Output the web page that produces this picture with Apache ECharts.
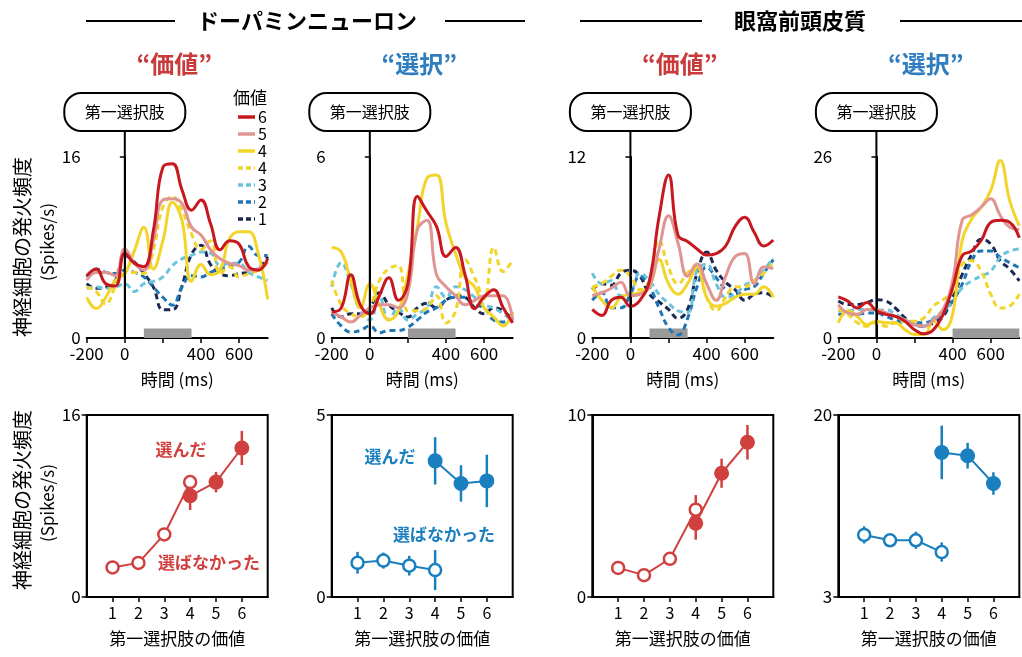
<!DOCTYPE html>
<html><head><meta charset="utf-8">
<script src="https://cdn.jsdelivr.net/npm/echarts@6/dist/echarts.min.js"></script>
<style>html,body{margin:0;padding:0;background:#fff}#c{width:1022px;height:657px}</style>
</head><body><div id="c"></div>
<script>
// ---------------- DATA ----------------
const times = [-200,-150,-100,-50,0,50,100,150,200,250,300,350,400,450,500,550,600,650,700,750];
const legendLabels = ['6','5','4','4','3','2','1'];

// Panel 1: dopamine "value"
const da_v6  = [5.5,6.1,4.8,4.6,7.5,6.6,6.3,9.5,15.1,15.4,13.1,11.3,12.2,10.1,7.8,8.6,8.3,6.3,6.0,7.0];
const da_v5  = [5.1,5.8,5.8,5.5,7.9,6.6,6.0,8.6,12.2,12.3,11.9,9.8,9.1,7.8,7.0,6.6,6.4,6.0,6.1,6.7];
const da_v4  = [3.6,2.6,3.6,5.1,5.7,7.7,9.8,6.1,8.6,12.0,10.4,5.0,6.5,5.6,6.0,8.8,9.4,9.4,7.5,3.4];
const da_v4d = [4.5,4.1,3.0,4.5,5.7,5.8,5.7,7.8,11.6,12.5,11.3,9.2,7.8,8.6,5.7,6.3,5.4,5.7,6.0,6.6];
const da_v3  = [4.4,4.5,4.4,4.5,4.8,4.1,4.8,5.0,5.4,6.4,7.0,7.3,7.6,7.5,6.4,6.6,6.6,5.8,5.4,5.1];
const da_v2  = [5.4,6.1,5.8,5.7,6.0,5.8,5.4,4.5,3.6,2.9,4.5,5.5,5.4,5.8,6.1,6.4,6.7,8.1,7.3,7.3];
const da_v1  = [4.8,4.4,4.5,5.1,7.3,6.7,5.7,4.5,2.5,2.5,4.6,7.4,8.2,6.5,5.7,5.5,5.7,5.8,6.1,7.2];
// Panel 2: dopamine "choice"
const dc_v6  = [0.86,1.0,2.1,1.1,0.8,1.4,2.0,1.25,1.8,4.7,4.2,3.7,2.7,3.0,2.1,0.97,1.36,1.6,1.0,0.5];
const dc_v5  = [0.86,0.7,0.53,0.75,1.0,1.1,1.1,1.0,1.5,3.6,3.9,2.1,1.7,1.4,1.1,1.25,1.4,1.4,1.4,0.6];
const dc_v4  = [3.0,2.85,1.9,1.0,1.8,1.1,0.6,0.9,2.1,3.7,5.3,5.4,3.8,2.8,2.0,1.7,1.0,0.7,0.4,0.86];
const dc_v4d = [1.9,1.1,0.8,0.7,1.0,1.9,2.3,2.4,0.9,0.9,1.0,1.4,0.5,0.9,2.6,2.0,1.3,3.0,2.2,2.6];
const dc_v3  = [1.7,2.5,1.8,0.9,0.6,1.35,0.6,1.0,0.6,0.8,1.0,1.7,1.35,1.7,1.6,1.35,1.1,1.0,0.8,0.6];
const dc_v2  = [0.8,0.4,0.2,0.25,0.4,0.17,0.25,0.25,0.36,0.6,0.86,1.0,1.25,1.35,1.35,1.1,1.0,0.6,0.53,0.64];
const dc_v1  = [1.0,0.7,0.8,0.8,1.0,1.5,1.1,0.86,0.7,1.0,1.15,1.0,1.25,1.4,1.35,1.0,0.8,1.0,0.9,0.6];
// Panel 3: OFC "value"
const oa_v6  = [1.9,1.5,2.5,2.7,2.1,2.5,3.8,8.0,10.8,6.8,6.4,5.9,5.5,5.6,6.1,7.4,8.0,7.0,6.1,6.5];
const oa_v5  = [2.8,3.0,3.3,3.7,2.8,2.9,3.4,5.9,8.1,6.3,4.1,4.9,3.6,2.5,4.1,5.4,5.6,3.6,4.7,4.6];
const oa_v4  = [3.4,2.5,2.0,2.7,2.9,3.0,3.4,5.2,3.6,2.9,3.6,4.7,2.7,2.1,2.3,2.7,2.9,2.9,3.4,2.7];
const oa_v4d = [3.4,3.6,4.1,4.5,4.1,3.2,3.8,6.5,4.7,3.6,4.3,4.9,2.7,1.8,2.7,3.4,3.4,3.8,4.3,5.0];
const oa_v3  = [4.3,3.6,3.8,2.8,3.0,4.3,3.8,2.9,2.3,1.8,1.7,4.5,4.9,3.6,2.7,2.9,3.5,3.8,4.5,5.3];
const oa_v2  = [2.5,3.0,2.0,2.0,2.9,4.1,3.4,2.0,0.7,0.2,1.3,3.4,4.7,4.0,3.2,2.8,3.2,3.4,4.3,5.2];
const oa_v1  = [3.2,3.6,3.5,4.3,4.5,4.1,2.9,2.4,1.9,1.3,1.9,4.3,5.7,4.5,3.7,3.2,2.5,2.9,3.0,2.7];
// Panel 4: OFC "choice"
const oc_v6  = [5.9,5.3,4.3,5.1,3.9,3.4,3.1,2.4,1.2,0.6,1.2,3.4,7.2,11.8,12.5,14.0,16.6,16.9,16.6,14.4];
const oc_v5  = [4.8,3.6,3.4,4.1,4.1,3.6,3.1,2.6,1.9,1.7,2.6,4.1,8.2,16.9,17.7,18.8,20.0,17.6,15.9,15.6];
const oc_v4  = [2.2,3.9,3.1,1.9,2.4,2.2,2.2,1.2,0.5,0.5,2.4,1.2,3.4,14.0,17.1,18.8,21.2,25.5,19.7,16.1];
const oc_v4d = [4.1,3.4,2.2,1.7,2.2,1.7,2.2,2.4,2.4,2.9,4.6,5.5,6.7,10.6,11.1,9.6,6.3,4.3,4.6,6.3];
const oc_v3  = [3.9,3.9,4.1,4.1,3.9,4.1,3.4,2.6,1.9,1.7,2.9,3.9,5.3,7.2,8.2,8.9,9.6,11.6,12.5,12.8];
const oc_v2  = [3.4,3.4,3.4,3.6,3.6,3.1,2.6,2.2,2.2,2.2,2.6,3.6,5.3,7.7,11.1,12.5,12.5,11.6,10.8,10.1];
const oc_v1  = [5.3,4.8,4.8,5.1,5.5,5.3,4.3,2.9,1.9,1.7,2.2,3.1,5.8,9.1,12.0,14.2,13.5,11.1,9.9,8.2];

const topMax = [16, 6, 12, 26];
const topTickLabels = [-200, 0, 400, 600];
const topTicks = [-200, 0, 200, 400, 600];
const windows = [[100,350],[200,450],[100,300],[400,750]];

// bottom panels: value of first option 1..6
const optValues = [1,2,3,4,5,6];
const notChosenX = [1,2,3,4];
const chosenX = [4,5,6];
const b1_not = [2.6,3.0,5.5,10.1], b1_notErr = [0.2,0.2,0.35,0.6];
const b1_ch  = [8.9,10.1,13.1],   b1_chErr  = [1.25,0.9,1.5];
const b2_not = [0.94,1.0,0.86,0.74], b2_notErr = [0.3,0.22,0.27,0.55];
const b2_ch  = [3.74,3.12,3.19],  b2_chErr  = [0.65,0.5,0.72];
const b3_not = [1.6,1.2,2.1,4.8], b3_notErr = [0.15,0.15,0.2,0.8];
const b3_ch  = [4.05,6.8,8.5],    b3_chErr  = [0.9,0.8,0.95];
const b4_not = [8.8,8.3,8.3,7.2], b4_notErr = [0.8,0.6,0.8,0.9];
const b4_ch  = [16.5,16.2,13.6],  b4_chErr  = [2.5,1.2,1.05];
const bottomRange = [[0,16],[0,5],[0,10],[3,20]];

// ---------------- STYLE ----------------
const FONT = "'Noto Sans CJK JP', 'Noto Sans', sans-serif";
const C = { v6:'#c8181f', v5:'#e09593', v4:'#f2d42a', v3:'#6cc3db', v2:'#1f76b4', v1:'#1b2a55' };
const RED = '#d0403f', BLUE = '#1a7fbf';
const TITLE_RED = '#c93b3b', TITLE_BLUE = '#2f7dbf';
const lefts = [86.7, 331.7, 592.3, 838.3];
const GW = 181;

const topSets = [
  [da_v1,da_v2,da_v3,da_v4d,da_v4,da_v5,da_v6],
  [dc_v1,dc_v2,dc_v3,dc_v4d,dc_v4,dc_v5,dc_v6],
  [oa_v1,oa_v2,oa_v3,oa_v4d,oa_v4,oa_v5,oa_v6],
  [oc_v1,oc_v2,oc_v3,oc_v4d,oc_v4,oc_v5,oc_v6]
];
const lineStyles = [
  {color:C.v1, dash:true},{color:C.v2, dash:true},{color:C.v3, dash:true},{color:C.v4, dash:true},
  {color:C.v4, dash:false},{color:C.v5, dash:false},{color:C.v6, dash:false}
];
const bottomSets = [
  {not:b1_not, notErr:b1_notErr, ch:b1_ch, chErr:b1_chErr, color:RED},
  {not:b2_not, notErr:b2_notErr, ch:b2_ch, chErr:b2_chErr, color:BLUE},
  {not:b3_not, notErr:b3_notErr, ch:b3_ch, chErr:b3_chErr, color:RED},
  {not:b4_not, notErr:b4_notErr, ch:b4_ch, chErr:b4_chErr, color:BLUE}
];

const grid = [], xAxis = [], yAxis = [], series = [];
const axisFont = {color:'#000', fontSize:17, fontFamily:FONT};
for (let i = 0; i < 4; i++) {
  grid.push({left:lefts[i], top:157, width:GW, height:181});
  xAxis.push({gridIndex:i, type:'value', min:-200, max:750,
    axisLine:{show:true, onZero:false, lineStyle:{color:'#000', width:2}},
    axisTick:{show:true, length:5, customValues:topTicks, lineStyle:{color:'#000', width:1.5}},
    axisLabel:Object.assign({margin:7, customValues:topTickLabels}, axisFont),
    splitLine:{show:false},
    name:'時間 (ms)', nameLocation:'middle', nameGap:33, nameTextStyle:Object.assign({}, axisFont)});
  yAxis.push({gridIndex:i, type:'value', min:0, max:topMax[i],
    axisLine:{show:true, lineStyle:{color:'#000', width:2}},
    axisTick:{show:true, length:5, customValues:[0, topMax[i]], lineStyle:{color:'#000', width:1.5}},
    axisLabel:Object.assign({margin:6, customValues:[0, topMax[i]]}, axisFont),
    splitLine:{show:false}});
  topSets[i].forEach((arr, k) => {
    const ls = lineStyles[k];
    const s = {type:'line', xAxisIndex:i, yAxisIndex:i, silent:true, symbol:'none', smooth:0.45,
      data: times.map((t, j) => [t, arr[j]]), z: 2 + k,
      lineStyle:{color:ls.color, width:3, type: ls.dash ? [6,4] : 'solid'}};
    if (k === 0) {
      s.markArea = {silent:true, itemStyle:{color:'#999', opacity:1},
        data:[[{xAxis:windows[i][0], yAxis:0},{xAxis:windows[i][1], yAxis:topMax[i]*0.052}]]};
    }
    series.push(s);
  });
}
for (let i = 0; i < 4; i++) {
  const gi = 4 + i;
  const [mn, mx] = bottomRange[i];
  grid.push({left:lefts[i], top:415, width:GW, height:182, show:true, borderColor:'#000', borderWidth:2, backgroundColor:'transparent'});
  xAxis.push({gridIndex:gi, type:'value', min:0, max:7,
    axisLine:{show:true, onZero:false, lineStyle:{color:'#000', width:2}},
    axisTick:{show:true, length:5, customValues:optValues, lineStyle:{color:'#000', width:1.5}},
    axisLabel:Object.assign({margin:8, customValues:optValues}, axisFont, {fontSize:16}),
    splitLine:{show:false},
    name:'第一選択肢の価値', nameLocation:'middle', nameGap:33, nameTextStyle:Object.assign({}, axisFont)});
  yAxis.push({gridIndex:gi, type:'value', min:mn, max:mx,
    axisLine:{show:true, onZero:false, lineStyle:{color:'#000', width:2}},
    axisTick:{show:true, length:5, customValues:[mn, mx], lineStyle:{color:'#000', width:1.5}},
    axisLabel:Object.assign({margin:6, customValues:[mn, mx]}, axisFont),
    splitLine:{show:false}});
  const b = bottomSets[i];
  const errRender = (color) => (params, api) => {
    const p1 = api.coord([api.value(0), api.value(1)]);
    const p2 = api.coord([api.value(0), api.value(2)]);
    return {type:'line', shape:{x1:p1[0], y1:p1[1], x2:p2[0], y2:p2[1]}, style:{stroke:color, lineWidth:2.5}};
  };
  const errData = notChosenX.map((x, j) => [x, b.not[j]-b.notErr[j], b.not[j]+b.notErr[j]])
    .concat(chosenX.map((x, j) => [x, b.ch[j]-b.chErr[j], b.ch[j]+b.chErr[j]]));
  series.push({type:'custom', xAxisIndex:gi, yAxisIndex:gi, silent:true, z:2,
    renderItem: errRender(b.color), encode:{x:0, y:[1,2]}, data: errData});
  series.push({type:'line', xAxisIndex:gi, yAxisIndex:gi, silent:true, z:3,
    data: notChosenX.map((x, j) => [x, b.not[j]]), symbol:'circle', symbolSize:12, showAllSymbol:true,
    lineStyle:{color:b.color, width:2}, itemStyle:{color:'#fff', borderColor:b.color, borderWidth:2.5}});
  series.push({type:'line', xAxisIndex:gi, yAxisIndex:gi, silent:true, z:4,
    data: chosenX.map((x, j) => [x, b.ch[j]]), symbol:'circle', symbolSize:15, showAllSymbol:true,
    lineStyle:{color:b.color, width:2}, itemStyle:{color:b.color, borderColor:b.color, borderWidth:0}});
}

const chart = echarts.init(document.getElementById('c'), null, {renderer:'canvas'});
chart.setOption({animation:false, backgroundColor:'#fff', textStyle:{fontFamily:FONT}, grid, xAxis, yAxis, series});

// ---------------- GRAPHICS ----------------
const g = [];
function text(x, y, str, opt) {
  g.push(Object.assign({type:'text', x, y, silent:true, z:50,
    style:Object.assign({text:str, fontFamily:FONT, fill:'#000', fontSize:16, align:'center', verticalAlign:'middle'}, opt || {})}));
}
function hline(x1, x2, y, w) {
  g.push({type:'line', silent:true, z:50, shape:{x1, y1:y, x2, y2:y}, style:{stroke:'#000', lineWidth:w || 2}});
}
// group headers
text(307, 21, 'ドーパミンニューロン', {fontSize:22, fontWeight:'bold'});
hline(86, 175, 21); hline(445, 525, 21);
text(800, 21, '眼窩前頭皮質', {fontSize:22, fontWeight:'bold'});
hline(580, 702, 21); hline(900, 1022, 21);
// panel titles
const ptitles = [['“価値”', TITLE_RED], ['“選択”', TITLE_BLUE], ['“価値”', TITLE_RED], ['“選択”', TITLE_BLUE]];
for (let i = 0; i < 4; i++) {
  const p0 = chart.convertToPixel({gridIndex:i}, [0, topMax[i]]);
  const pb = chart.convertToPixel({gridIndex:i}, [0, 0]);
  const xc = lefts[i] + GW / 2 - 1;
  text(xc - 2, 64, ptitles[i][0], {fontSize:24, fontWeight:'bold', fill:ptitles[i][1]});
  g.push({type:'line', silent:true, z:40, shape:{x1:p0[0], y1:131, x2:p0[0], y2:pb[1]}, style:{stroke:'#000', lineWidth:2}});
  g.push({type:'rect', silent:true, z:45, shape:{x:p0[0]-60.5, y:93, width:121, height:38, r:17},
    style:{fill:'#fff', stroke:'#000', lineWidth:2}});
  text(p0[0], 112, '第一選択肢', {fontSize:16});
}
// legend
text(250, 98, '価値', {fontSize:17});
const legendStyles = [lineStyles[6], lineStyles[5], lineStyles[4], lineStyles[3], lineStyles[2], lineStyles[1], lineStyles[0]];
legendLabels.forEach((lab, k) => {
  const y = 117 + k * 17;
  const ls = legendStyles[k];
  g.push({type:'line', silent:true, z:50, shape:{x1:238, y1:y, x2:255, y2:y},
    style:{stroke:ls.color, lineWidth:3.5, lineDash: ls.dash ? [5,3] : null}});
  text(258, y, lab, {fontSize:16, align:'left'});
});
// y axis titles
[[247, 242], [500, 503]].forEach(([yj, ys]) => {
  text(22, yj, '神経細胞の発火頻度', {fontSize:20}); g[g.length-1].rotation = Math.PI/2;
  text(48, ys, '(Spikes/s)', {fontSize:17}); g[g.length-1].rotation = Math.PI/2;
});
// annotations
text(181, 450, '選んだ', {fontSize:17, fontWeight:'bold', fill:RED});
text(209, 563, '選ばなかった', {fontSize:17, fontWeight:'bold', fill:RED});
text(390, 457, '選んだ', {fontSize:17, fontWeight:'bold', fill:BLUE});
text(444, 535, '選ばなかった', {fontSize:17, fontWeight:'bold', fill:BLUE});

chart.setOption({graphic: g});
</script>
</body></html>
